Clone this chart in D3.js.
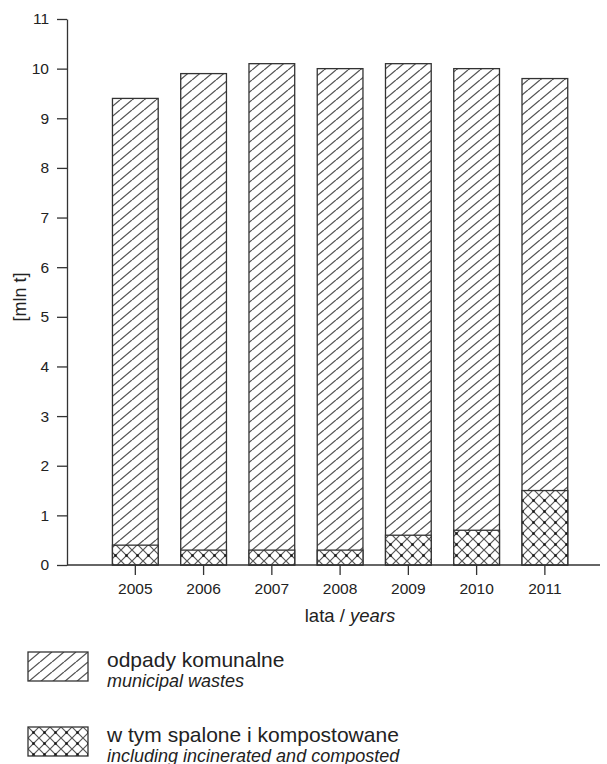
<!DOCTYPE html>
<html>
<head>
<meta charset="utf-8">
<script src="https://cdn.jsdelivr.net/npm/d3@7"></script>
<style>
  body { margin: 0; background: #fff; }
  text { font-family: "Liberation Sans", Arial, sans-serif; fill: #222; }
</style>
</head>
<body>
<div id="chart"></div>
<script>
/* DATA */
const years = ["2005", "2006", "2007", "2008", "2009", "2010", "2011"];
const municipal = [9.4, 9.9, 10.1, 10.0, 10.1, 10.0, 9.8];
const incinerated = [0.4, 0.3, 0.3, 0.3, 0.6, 0.7, 1.5];
const yTicks = [0, 1, 2, 3, 4, 5, 6, 7, 8, 9, 10, 11];

const width = 607, height = 764;
const margin = { top: 19, left: 67, bottom: 565 };

const svg = d3.select("#chart").append("svg")
  .attr("width", width)
  .attr("height", height);

// hatch patterns
const defs = svg.append("defs");
const diag = defs.append("pattern")
  .attr("id", "diag")
  .attr("patternUnits", "userSpaceOnUse")
  .attr("width", 12).attr("height", 10);
diag.append("rect").attr("width", 12).attr("height", 10).attr("fill", "#fff");
diag.append("path")
  .attr("d", "M-12,10 L0,0 M0,10 L12,0 M12,10 L24,0")
  .attr("stroke", "#555").attr("stroke-width", 1.3);

const cross = defs.append("pattern")
  .attr("id", "cross")
  .attr("patternUnits", "userSpaceOnUse")
  .attr("width", 11).attr("height", 11);
cross.append("rect").attr("width", 11).attr("height", 11).attr("fill", "#fff");
cross.append("path")
  .attr("d", "M0,0 L11,11 M11,0 L0,11 M-5.5,5.5 L0,0 M11,11 L16.5,5.5")
  .attr("stroke", "#555").attr("stroke-width", 1.2);
cross.append("rect").attr("x", 4.3).attr("y", 4.3).attr("width", 2.4).attr("height", 2.4).attr("fill", "#111");

// scales
const x = d3.scaleBand()
  .domain(years)
  .range([101.2, 579])
  .paddingInner(0.33)
  .paddingOuter(0.165);

const y = d3.scaleLinear()
  .domain([0, 11])
  .range([margin.bottom, margin.top]);

// bars
const g = svg.append("g");
g.selectAll("rect.total")
  .data(years)
  .join("rect")
  .attr("class", "total")
  .attr("x", d => x(d))
  .attr("width", x.bandwidth())
  .attr("y", (d, i) => y(municipal[i]))
  .attr("height", (d, i) => y(0) - y(municipal[i]))
  .attr("fill", "url(#diag)")
  .attr("stroke", "#333")
  .attr("stroke-width", 1.3);

g.selectAll("rect.part")
  .data(years)
  .join("rect")
  .attr("class", "part")
  .attr("x", d => x(d))
  .attr("width", x.bandwidth())
  .attr("y", (d, i) => y(incinerated[i]))
  .attr("height", (d, i) => y(0) - y(incinerated[i]))
  .attr("fill", "url(#cross)")
  .attr("stroke", "#333")
  .attr("stroke-width", 1.3);

// axes
const yAxis = svg.append("g")
  .attr("transform", `translate(${margin.left},0)`)
  .call(d3.axisLeft(y).tickValues(yTicks).tickSize(10).tickPadding(8).tickSizeOuter(0));

const xAxis = svg.append("g")
  .attr("transform", `translate(0,${margin.bottom})`)
  .call(d3.axisBottom(x).tickSize(10).tickPadding(8).tickSizeOuter(0));

// extend x axis line across the plot
xAxis.select(".domain").attr("d", `M${margin.left},0H600`);

svg.selectAll(".domain, .tick line").attr("stroke", "#333").attr("stroke-width", 1.3);
svg.selectAll(".tick text")
  .style("font-size", "15.5px")
  .style("font-family", "Liberation Sans, Arial, sans-serif")
  .style("fill", "#222");

// axis titles
svg.append("text")
  .attr("transform", "translate(26,297) rotate(-90)")
  .attr("text-anchor", "middle")
  .style("font-size", "18px")
  .text("[mln t]");

const xt = svg.append("text")
  .attr("x", 350)
  .attr("y", 622)
  .attr("text-anchor", "middle")
  .style("font-size", "18.5px");
xt.append("tspan").text("lata / ");
xt.append("tspan").attr("font-style", "italic").text("years");

// legend
const legendItems = [
  { fill: "url(#diag)", pl: "odpady komunalne", en: "municipal wastes" },
  { fill: "url(#cross)", pl: "w tym spalone i kompostowane", en: "including incinerated and composted" }
];
const legend = svg.selectAll("g.legend")
  .data(legendItems)
  .join("g")
  .attr("class", "legend")
  .attr("transform", (d, i) => `translate(28,${652 + i * 75})`);
legend.append("rect")
  .attr("width", 60).attr("height", 29)
  .attr("fill", d => d.fill)
  .attr("stroke", "#333").attr("stroke-width", 1.3);
legend.append("text")
  .attr("x", 79).attr("y", 15)
  .style("font-size", "21px")
  .text(d => d.pl);
legend.append("text")
  .attr("x", 79).attr("y", 35)
  .style("font-size", "18px")
  .attr("font-style", "italic")
  .text(d => d.en);
</script>
</body>
</html>
